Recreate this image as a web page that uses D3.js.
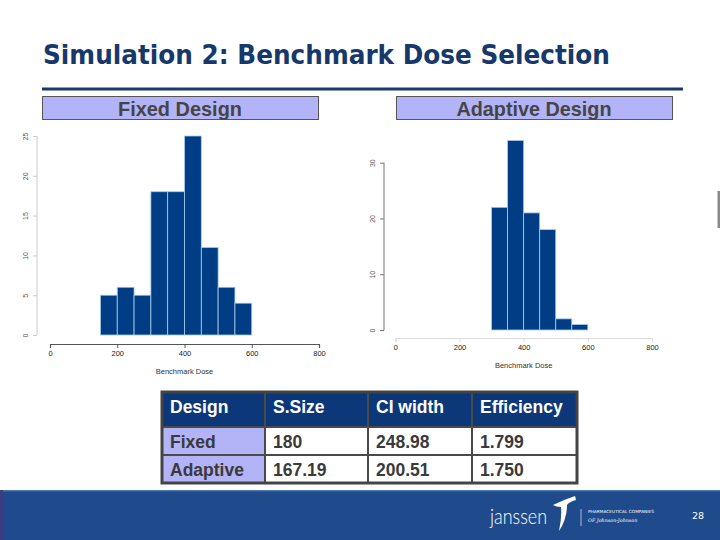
<!DOCTYPE html>
<html>
<head>
<meta charset="UTF-8">
<script src="https://cdn.jsdelivr.net/npm/d3@7"></script>
<style>
body { margin: 0; background: #fff; }
svg { display: block; }
.ax text { font-family: "Liberation Sans", Arial, sans-serif; }
</style>
</head>
<body>
<script>

// histogram data (bin starts, width 50)
var binWidth = 50;
var fixedBins = [150, 200, 250, 300, 350, 400, 450, 500, 550];
var fixedCounts = [5, 6, 5, 18, 18, 25, 11, 6, 4];
var adaptiveBins = [300, 350, 400, 450, 500, 550];
var adaptiveCounts = [22, 34, 21, 18, 2, 1];

var doseTicks = [0, 200, 400, 600, 800];
var fixedYTicks = [0, 5, 10, 15, 20, 25];
var adaptiveYTicks = [0, 10, 20, 30];

// table
var tableHeader = ["Design", "S.Size", "CI width", "Efficiency"];
var designs = ["Fixed", "Adaptive"];
var sampleSize = ["180", "167.19"];
var ciWidth = ["248.98", "200.51"];
var efficiency = ["1.799", "1.750"];

var width = 720, height = 540;
var navy = "#17386b";
var barFill = "#003d85";
var lavender = "#b3b3f7";

var svg = d3.select("body").append("svg")
    .attr("width", width)
    .attr("height", height);

svg.append("rect").attr("width", width).attr("height", height).attr("fill", "#fff");

// title
svg.append("text")
    .attr("x", 43).attr("y", 64)
    .attr("font-family", "DejaVu Sans, Verdana, sans-serif")
    .attr("font-weight", "bold")
    .attr("font-size", 26)
    .attr("textLength", 567)
    .attr("lengthAdjust", "spacingAndGlyphs")
    .attr("fill", navy)
    .text("Simulation 2: Benchmark Dose Selection");

svg.append("rect")
    .attr("x", 42).attr("y", 87.5).attr("width", 641).attr("height", 3)
    .attr("fill", navy);

// panel headers
var panels = [
    {label: "Fixed Design", x: 42, len: 124},
    {label: "Adaptive Design", x: 396, len: 155}
];
panels.forEach(function(p) {
    svg.append("rect")
        .attr("x", p.x + 0.5).attr("y", 96.5)
        .attr("width", 276).attr("height", 23)
        .attr("fill", lavender)
        .attr("stroke", "#555").attr("stroke-width", 1);
    svg.append("text")
        .attr("x", p.x + 138).attr("y", 115.5)
        .attr("text-anchor", "middle")
        .attr("font-family", "Liberation Sans, Arial, sans-serif")
        .attr("font-weight", "bold")
        .attr("font-size", 21)
        .attr("textLength", p.len)
        .attr("lengthAdjust", "spacingAndGlyphs")
        .attr("fill", "#454545")
        .text(p.label);
});

// histogram drawer
function histogram(opt) {
    var x = d3.scaleLinear().domain([0, 800]).range(opt.xRange);
    var y = d3.scaleLinear().domain([0, opt.yMax]).range([opt.y0, opt.yTop]);
    var g = svg.append("g");

    g.selectAll("rect.bar")
        .data(opt.bins)
        .enter().append("rect")
        .attr("class", "bar")
        .attr("x", function(d) { return x(d); })
        .attr("width", function(d) { return x(d + binWidth) - x(d); })
        .attr("y", function(d, i) { return y(opt.counts[i]); })
        .attr("height", function(d, i) { return y(0) - y(opt.counts[i]); })
        .attr("fill", barFill)
        .attr("stroke", "#a9cdee")
        .attr("stroke-width", 0.8);

    var xa = g.append("g")
        .attr("class", "ax")
        .attr("transform", "translate(0," + opt.xAxisY + ")")
        .call(d3.axisBottom(x).tickValues(doseTicks).tickSize(4).tickPadding(3));
    xa.select(".domain").attr("stroke", opt.xAxisColor).attr("stroke-width", 1.2);
    xa.selectAll(".tick line").attr("stroke", opt.xAxisColor);
    xa.selectAll("text").attr("font-size", 7.5).attr("fill", "#222");

    var ya = g.append("g")
        .attr("class", "ax")
        .attr("transform", "translate(" + opt.yAxisX + ",0)")
        .call(d3.axisLeft(y).tickValues(opt.yTicks).tickSize(4).tickPadding(3));
    ya.select(".domain").attr("stroke", opt.yAxisColor)
        .attr("d", "M0," + y(0) + "V" + y(d3.max(opt.yTicks)));
    ya.selectAll(".tick line").attr("stroke", opt.yAxisColor);
    ya.selectAll("text")
        .attr("font-size", 7)
        .attr("fill", "#555")
        .attr("text-anchor", "middle")
        .attr("dy", 0)
        .attr("transform", "translate(-9,0) rotate(-90)")
        .attr("x", 0).attr("y", 0);

    g.append("text")
        .attr("x", (x(0) + x(800)) / 2).attr("y", opt.titleY)
        .attr("text-anchor", "middle")
        .attr("font-family", "Liberation Sans, Arial, sans-serif")
        .attr("font-size", 7.5)
        .attr("fill", "#333")
        .text("Benchmark Dose");
}

histogram({
    bins: fixedBins, counts: fixedCounts, yMax: 25, yTicks: fixedYTicks,
    xRange: [50, 319], y0: 335, yTop: 136,
    xAxisY: 344, yAxisX: 37, titleY: 374,
    xAxisColor: "#555", yAxisColor: "#ccc"
});

histogram({
    bins: adaptiveBins, counts: adaptiveCounts, yMax: 30, yTicks: adaptiveYTicks,
    xRange: [395.3, 652], y0: 330, yTop: 162.7,
    xAxisY: 338, yAxisX: 384, titleY: 368,
    xAxisColor: "#ddd", yAxisColor: "#777"
});

// small edge element on the right
svg.append("rect").attr("x", 717.5).attr("y", 191).attr("width", 2.5).attr("height", 37).attr("fill", "#8a8a8a");

// table
var colX = [162, 265, 368, 472, 577];
var rowY = [392, 427, 455, 483];
var rows = [tableHeader].concat(designs.map(function(d, i) {
    return [d, sampleSize[i], ciWidth[i], efficiency[i]];
}));

var tg = svg.append("g");
rows.forEach(function(r, ri) {
    r.forEach(function(cell, ci) {
        var fill = ri === 0 ? "#0c3778" : (ci === 0 ? lavender : "#fff");
        tg.append("rect")
            .attr("x", colX[ci]).attr("y", rowY[ri])
            .attr("width", colX[ci + 1] - colX[ci])
            .attr("height", rowY[ri + 1] - rowY[ri])
            .attr("fill", fill)
            .attr("stroke", "#4a4a4a").attr("stroke-width", 2);
        tg.append("text")
            .attr("x", colX[ci] + 8)
            .attr("y", ri === 0 ? rowY[0] + 20.5 : (rowY[ri] + rowY[ri + 1]) / 2 + 6.5)
            .attr("font-family", "Liberation Sans, Arial, sans-serif")
            .attr("font-weight", "bold")
            .attr("font-size", 17.5)
            .attr("fill", ri === 0 ? "#fff" : "#3a3a3a")
            .text(cell);
    });
});
tg.append("rect")
    .attr("x", colX[0]).attr("y", rowY[0])
    .attr("width", colX[4] - colX[0]).attr("height", rowY[3] - rowY[0])
    .attr("fill", "none").attr("stroke", "#444").attr("stroke-width", 3);

// footer band
svg.append("rect").attr("x", 0).attr("y", 490).attr("width", width).attr("height", 50).attr("fill", "#1f4b8d");
svg.append("rect").attr("x", 0).attr("y", 490).attr("width", width).attr("height", 1.5).attr("fill", "#4d74aa");
svg.append("rect").attr("x", 0).attr("y", 490).attr("width", 3).attr("height", 50).attr("fill", "#3a3d80");

svg.append("text")
    .attr("x", 490).attr("y", 524)
    .attr("font-family", "Lato, sans-serif")
    .attr("font-weight", 300)
    .attr("font-size", 22)
    .attr("textLength", 57)
    .attr("lengthAdjust", "spacingAndGlyphs")
    .attr("fill", "#fff")
    .text("janssen");

svg.append("path")
    .attr("d", "M553,505 Q563,500 575,496 L576,500 Q569,502 567,505 Q567,519 559,531 Q562,517 561,507 Q556,507 553,505 Z")
    .attr("fill", "#fff");

svg.append("line")
    .attr("x1", 581).attr("x2", 581).attr("y1", 509).attr("y2", 526)
    .attr("stroke", "#cdd8ea").attr("stroke-width", 0.8);

svg.append("text")
    .attr("x", 588).attr("y", 513)
    .attr("font-family", "DejaVu Sans, sans-serif")
    .attr("font-size", 4.3)
    .attr("fill", "#fff")
    .text("PHARMACEUTICAL COMPANIES");
svg.append("text")
    .attr("x", 588).attr("y", 522)
    .attr("font-family", "DejaVu Serif, serif")
    .attr("font-size", 4.8)
    .attr("font-style", "italic")
    .attr("fill", "#fff")
    .text("OF Johnson-Johnson");

svg.append("text")
    .attr("x", 692).attr("y", 519)
    .attr("font-family", "DejaVu Sans, sans-serif")
    .attr("font-size", 9.5)
    .attr("fill", "#fff")
    .text("28");

</script>
</body>
</html>
